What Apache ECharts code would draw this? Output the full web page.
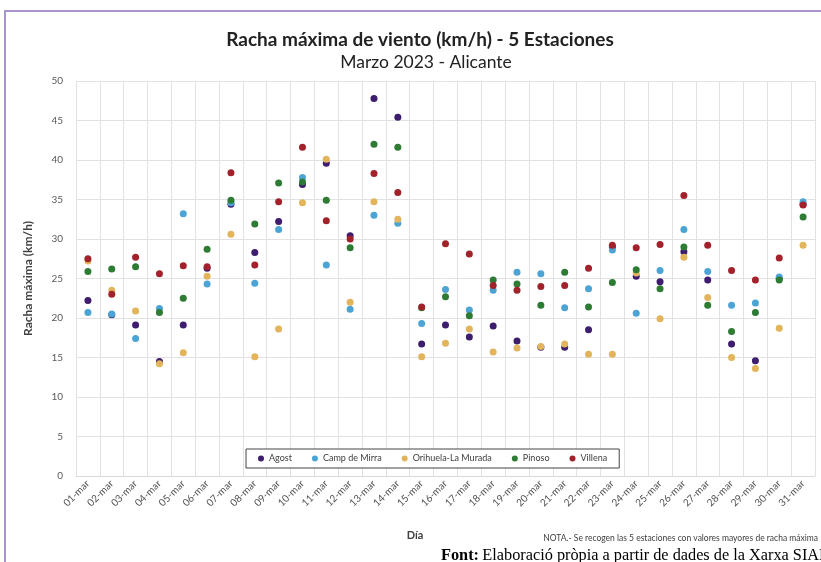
<!DOCTYPE html>
<html>
<head>
<meta charset="utf-8">
<script src="https://cdn.jsdelivr.net/npm/echarts@6/dist/echarts.min.js"></script>
<style>
html,body{margin:0;padding:0;background:#fff;}
#chart{width:821px;height:562px;}
</style>
</head>
<body>
<div id="chart"></div>
<script>
const days = ['01-mar','02-mar','03-mar','04-mar','05-mar','06-mar','07-mar','08-mar','09-mar','10-mar','11-mar','12-mar','13-mar','14-mar','15-mar','16-mar','17-mar','18-mar','19-mar','20-mar','21-mar','22-mar','23-mar','24-mar','25-mar','26-mar','27-mar','28-mar','29-mar','30-mar','31-mar'];
const stations = ['Agost','Camp de Mirra','Orihuela-La Murada','Pinoso','Villena'];
const agost    = [22.2,20.4,19.1,14.5,19.1,26.3,34.4,28.3,32.2,36.9,39.6,30.4,47.8,45.4,16.7,19.1,17.6,19.0,17.1,16.3,16.3,18.5,29.0,25.3,24.6,28.4,24.8,16.7,14.6,25.0,34.4];
const campMirra= [20.7,20.5,17.4,21.2,33.2,24.3,34.6,24.4,31.2,37.8,26.7,21.1,33.0,32.0,19.3,23.6,21.0,23.5,25.8,25.6,21.3,23.7,28.6,20.6,26.0,31.2,25.9,21.6,21.9,25.2,34.7];
const orihuela = [27.2,23.5,20.9,14.2,15.6,25.3,30.6,15.1,18.6,34.6,40.1,22.0,34.7,32.5,15.1,16.8,18.6,15.7,16.2,16.4,16.7,15.4,15.4,25.7,19.9,27.7,22.6,15.0,13.6,18.7,29.2];
const pinoso   = [25.9,26.2,26.5,20.7,22.5,28.7,34.9,31.9,37.1,37.2,34.9,28.9,42.0,41.6,21.3,22.7,20.3,24.8,24.3,21.6,25.8,21.4,24.5,26.1,23.7,29.0,21.6,18.3,20.7,24.8,32.8];
const villena  = [27.5,23.0,27.7,25.6,26.6,26.5,38.4,26.7,34.7,41.6,32.3,30.0,38.3,35.9,21.4,29.4,28.1,24.1,23.5,24.0,24.1,26.3,29.2,28.9,29.3,35.5,29.2,26.0,24.8,27.6,34.3];
const seriesValues = [agost, campMirra, orihuela, pinoso, villena];
const colors = ['#3e1c6e','#4ca4d4','#e2b45c','#2e7b34','#a2222b'];

const FONT = 'Lato, "Open Sans", sans-serif';
const chart = echarts.init(document.getElementById('chart'), null, {renderer:'canvas'});
chart.setOption({
  backgroundColor:'#ffffff',
  animation:false,
  textStyle:{fontFamily:FONT},
  grid:{left:76, right:6, top:81, bottom:86, containLabel:false},
  legend:{
    data:stations,
    left:246, top:449,
    padding:[5,12,5,12],
    itemGap:20,
    itemWidth:6, itemHeight:6,
    icon:'circle',
    borderColor:'#444', borderWidth:1,
    backgroundColor:'#fff',
    textStyle:{fontSize:9, color:'#404040', fontFamily:FONT}
  },
  xAxis:{
    type:'category',
    data:days,
    boundaryGap:true,
    axisLine:{show:true, lineStyle:{color:'#d9d9d9'}},
    axisTick:{show:false},
    axisLabel:{rotate:45, fontSize:10, color:'#505050', margin:6, interval:0},
    splitLine:{show:true, lineStyle:{color:'#e2e2e2'}}
  },
  yAxis:{
    type:'value',
    min:0, max:50, interval:5,
    name:'Racha máxima (km/h)',
    nameLocation:'middle',
    nameGap:42,
    nameTextStyle:{fontSize:12, fontWeight:'bold', color:'#404040'},
    axisLine:{show:false},
    axisTick:{show:false},
    axisLabel:{fontSize:10, color:'#595959', margin:13},
    splitLine:{show:true, lineStyle:{color:'#e2e2e2'}}
  },
  series: stations.map((name,i)=>({
    name:name,
    type:'scatter',
    data:seriesValues[i],
    symbol:'circle',
    symbolSize:7,
    itemStyle:{color:colors[i], opacity:1},
    z:2+i
  })),
  graphic:[
    {type:'rect', shape:{x:5, y:11, width:840, height:600}, style:{fill:'none', stroke:'#a995cc', lineWidth:2}, z:100, silent:true},
    {type:'text', x:420, y:40, style:{text:'Racha máxima de viento (km/h) - 5 Estaciones', font:'bold 19px '+FONT, fill:'#222', textAlign:'center', textVerticalAlign:'middle'}},
    {type:'text', x:426, y:62, style:{text:'Marzo 2023 - Alicante', font:'17.5px '+FONT, fill:'#222', textAlign:'center', textVerticalAlign:'middle'}},
    {type:'text', x:415, y:535, style:{text:'Día', font:'bold 11px '+FONT, fill:'#404040', textAlign:'center', textVerticalAlign:'middle'}},
    {type:'text', x:818, y:538, style:{text:'NOTA.- Se recogen las 5 estaciones con valores mayores de racha máxima', font:'8.5px '+FONT, fill:'#404040', textAlign:'right', textVerticalAlign:'middle'}},
    {type:'text', x:441, y:556, style:{
      text:'{b|Font:} {n|Elaboració pròpia a partir de dades de la Xarxa SIAR}',
      rich:{
        b:{fontFamily:'"Liberation Serif", serif', fontWeight:'bold', fontSize:16.3, fill:'#000', color:'#000'},
        n:{fontFamily:'"Liberation Serif", serif', fontSize:16.3, fill:'#000', color:'#000'}
      },
      textVerticalAlign:'middle'
    }}
  ]
});
</script>
</body>
</html>
